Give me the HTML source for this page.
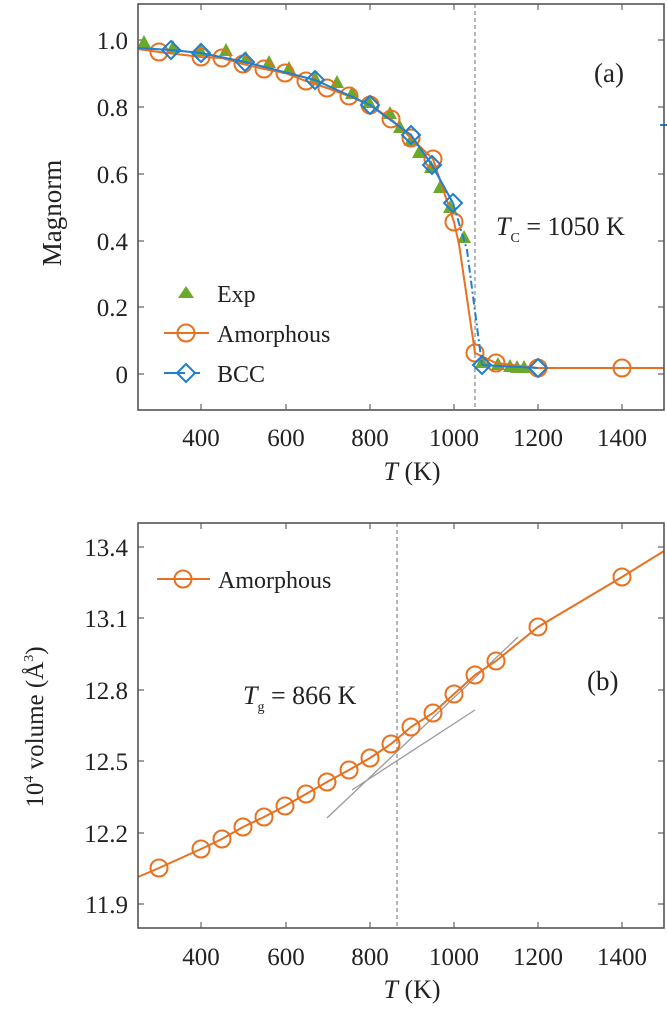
<!DOCTYPE html>
<html><head><meta charset="utf-8"><style>
html,body{margin:0;padding:0;background:#fff;}
svg{display:block;font-family:"Liberation Serif",serif;}
</style></head><body>
<svg width="667" height="1013" viewBox="0 0 667 1013" xmlns="http://www.w3.org/2000/svg">
<rect width="667" height="1013" fill="#fff"/>
<!-- ===== TOP PLOT ===== -->
<g stroke="#666" stroke-width="1.2" fill="none">
<path d="M201,410v-6M286,410v-6M370,410v-6M454,410v-6M538,410v-6M622,410v-6"/>
<path d="M201,4v6M286,4v6M370,4v6M454,4v6M538,4v6M622,4v6"/>
<path d="M138,374h6M138,307h6M138,241h6M138,174h6M138,107h6M138,40h6"/>
<path d="M664,374h-6M664,307h-6M664,241h-6M664,174h-6M664,107h-6M664,40h-6"/>
</g>
<line x1="475" y1="4" x2="475" y2="410" stroke="#888" stroke-width="1.2" stroke-dasharray="4,3"/>
<g fill="#6aaa2a">
<path d="M0,-7L7,6H-7Z" transform="translate(144,42)"/>
<path d="M0,-7L7,6H-7Z" transform="translate(173,47)"/>
<path d="M0,-7L7,6H-7Z" transform="translate(200,50)"/>
<path d="M0,-7L7,6H-7Z" transform="translate(226,50)"/>
<path d="M0,-7L7,6H-7Z" transform="translate(246,58)"/>
<path d="M0,-7L7,6H-7Z" transform="translate(269,62)"/>
<path d="M0,-7L7,6H-7Z" transform="translate(289,68)"/>
<path d="M0,-7L7,6H-7Z" transform="translate(315,78)"/>
<path d="M0,-7L7,6H-7Z" transform="translate(337,82)"/>
<path d="M0,-7L7,6H-7Z" transform="translate(352,93)"/>
<path d="M0,-7L7,6H-7Z" transform="translate(369,102)"/>
<path d="M0,-7L7,6H-7Z" transform="translate(390,113)"/>
<path d="M0,-7L7,6H-7Z" transform="translate(400,127)"/>
<path d="M0,-7L7,6H-7Z" transform="translate(411,140)"/>
<path d="M0,-7L7,6H-7Z" transform="translate(419,152)"/>
<path d="M0,-7L7,6H-7Z" transform="translate(431,167)"/>
<path d="M0,-7L7,6H-7Z" transform="translate(440,187)"/>
<path d="M0,-7L7,6H-7Z" transform="translate(450,207)"/>
<path d="M0,-7L7,6H-7Z" transform="translate(464,237)"/>
<path d="M0,-7L7,6H-7Z" transform="translate(482,362)"/>
<path d="M0,-7L7,6H-7Z" transform="translate(498,364)"/>
<path d="M0,-7L7,6H-7Z" transform="translate(510,366)"/>
<path d="M0,-7L7,6H-7Z" transform="translate(517,367)"/>
<path d="M0,-7L7,6H-7Z" transform="translate(524,367)"/>
</g>
<g stroke="#e8711f" stroke-width="2" fill="none">
<polyline points="138,49 159,52 201,57 222,58 243,64 264,69 285,73 306,81 327,88 349,96 370,105 391,119 411,138 433,159 454,222 459,244 475,353 496,363 538,368 622,368 664,368"/>
<g>
<circle cx="159" cy="52" r="8.5"/><circle cx="201" cy="57" r="8.5"/><circle cx="222" cy="58" r="8.5"/><circle cx="243" cy="64" r="8.5"/><circle cx="264" cy="69" r="8.5"/><circle cx="285" cy="73" r="8.5"/><circle cx="306" cy="81" r="8.5"/><circle cx="327" cy="88" r="8.5"/><circle cx="349" cy="96" r="8.5"/><circle cx="370" cy="105" r="8.5"/><circle cx="391" cy="119" r="8.5"/><circle cx="411" cy="138" r="8.5"/><circle cx="433" cy="159" r="8.5"/><circle cx="454" cy="222" r="8.5"/><circle cx="475" cy="353" r="8.5"/><circle cx="496" cy="363" r="8.5"/><circle cx="538" cy="368" r="8.5"/><circle cx="622" cy="368" r="8.5"/>
</g>
</g>
<g stroke="#1f7fd0" stroke-width="2" fill="none">
<polyline points="138,48 171,50 201,53 245,62 315,80 370,105 411,135 432,165 453,203"/>
<polyline points="453,203 467,250 482,365" stroke-dasharray="8,3,2,3"/>
<polyline points="482,365 538,368"/>
<g>
<path d="M171,41l9,9l-9,9l-9,-9z"/><path d="M201,44l9,9l-9,9l-9,-9z"/><path d="M245,53l9,9l-9,9l-9,-9z"/><path d="M315,71l9,9l-9,9l-9,-9z"/><path d="M370,96l9,9l-9,9l-9,-9z"/><path d="M411,126l9,9l-9,9l-9,-9z"/><path d="M432,156l9,9l-9,9l-9,-9z"/><path d="M453,194l9,9l-9,9l-9,-9z"/><path d="M482,356l9,9l-9,9l-9,-9z"/><path d="M538,359l9,9l-9,9l-9,-9z"/>
</g>
</g>
<line x1="660" y1="125" x2="667" y2="125" stroke="#1f7fd0" stroke-width="2"/>
<rect x="138" y="4" width="526" height="406" fill="none" stroke="#555" stroke-width="1.6"/>
<path d="M186,286l8,12h-16z" fill="#6aaa2a"/>
<text x="217" y="302" font-size="24" fill="#222">Exp</text>
<line x1="164" y1="333" x2="209" y2="333" stroke="#e8711f" stroke-width="2"/>
<circle cx="186" cy="333" r="8.5" fill="none" stroke="#e8711f" stroke-width="2"/>
<text x="217" y="342" font-size="24" fill="#222">Amorphous</text>
<line x1="164" y1="373" x2="185" y2="373" stroke="#1f7fd0" stroke-width="2"/>
<line x1="193" y1="373" x2="200" y2="373" stroke="#1f7fd0" stroke-width="2"/>
<path d="M186,364l9,9l-9,9l-9,-9z" fill="none" stroke="#1f7fd0" stroke-width="2"/>
<text x="217" y="382" font-size="24" fill="#222">BCC</text>
<text x="594" y="82" font-size="27" fill="#222">(a)</text>
<text x="496" y="235" font-size="26" fill="#222"><tspan font-style="italic">T</tspan><tspan font-size="14" dy="7">C</tspan><tspan dy="-7"> = 1050 K</tspan></text>
<g font-size="25" fill="#222" text-anchor="end">
<text x="128" y="383">0</text><text x="128" y="316">0.2</text><text x="128" y="250">0.4</text><text x="128" y="183">0.6</text><text x="128" y="116">0.8</text><text x="128" y="49">1.0</text>
</g>
<g font-size="25" fill="#222" text-anchor="middle">
<text x="201" y="446">400</text><text x="286" y="446">600</text><text x="370" y="446">800</text><text x="454" y="446">1000</text><text x="538" y="446">1200</text><text x="622" y="446">1400</text>
</g>
<text x="412" y="480" font-size="26" fill="#222" text-anchor="middle"><tspan font-style="italic">T</tspan>  (K)</text>
<text transform="translate(61,213) rotate(-90)" font-size="27" fill="#222" text-anchor="middle">Magnorm</text>

<!-- ===== BOTTOM PLOT ===== -->
<g stroke="#666" stroke-width="1.2" fill="none">
<path d="M201,928v-6M286,928v-6M370,928v-6M454,928v-6M538,928v-6M622,928v-6"/>
<path d="M201,523v6M286,523v6M370,523v6M454,523v6M538,523v6M622,523v6"/>
<path d="M138,904h6M138,833h6M138,761h6M138,690h6M138,618h6M138,547h6"/>
<path d="M664,904h-6M664,833h-6M664,761h-6M664,690h-6M664,618h-6M664,547h-6"/>
</g>
<line x1="397" y1="523" x2="397" y2="928" stroke="#888" stroke-width="1.2" stroke-dasharray="4,3"/>
<line x1="327" y1="818" x2="518" y2="637" stroke="#999" stroke-width="1.3"/>
<line x1="352" y1="790" x2="475" y2="710" stroke="#999" stroke-width="1.3"/>
<g stroke="#e8711f" stroke-width="2" fill="none">
<polyline points="138,877 159,868 201,849 222,839 243,827 264,817 285,806 306,794 327,782 349,770 370,758 391,744 411,727 433,713 454,694 475,675 496,661 538,627 622,577 664,551"/>
<circle cx="159" cy="868" r="8.5"/><circle cx="201" cy="849" r="8.5"/><circle cx="222" cy="839" r="8.5"/><circle cx="243" cy="827" r="8.5"/><circle cx="264" cy="817" r="8.5"/><circle cx="285" cy="806" r="8.5"/><circle cx="306" cy="794" r="8.5"/><circle cx="327" cy="782" r="8.5"/><circle cx="349" cy="770" r="8.5"/><circle cx="370" cy="758" r="8.5"/><circle cx="391" cy="744" r="8.5"/><circle cx="411" cy="727" r="8.5"/><circle cx="433" cy="713" r="8.5"/><circle cx="454" cy="694" r="8.5"/><circle cx="475" cy="675" r="8.5"/><circle cx="496" cy="661" r="8.5"/><circle cx="538" cy="627" r="8.5"/><circle cx="622" cy="577" r="8.5"/>
</g>
<rect x="138" y="523" width="526" height="405" fill="none" stroke="#555" stroke-width="1.6"/>
<line x1="157" y1="579" x2="210" y2="579" stroke="#e8711f" stroke-width="2"/>
<circle cx="183" cy="579" r="8.5" fill="none" stroke="#e8711f" stroke-width="2"/>
<text x="218" y="588" font-size="24" fill="#222">Amorphous</text>
<text x="587" y="690" font-size="27" fill="#222">(b)</text>
<text x="243" y="704" font-size="26" fill="#222"><tspan font-style="italic">T</tspan><tspan font-size="14" dy="7">g</tspan><tspan dy="-7"> = 866 K</tspan></text>
<g font-size="25" fill="#222" text-anchor="end">
<text x="128" y="913">11.9</text><text x="128" y="842">12.2</text><text x="128" y="770">12.5</text><text x="128" y="699">12.8</text><text x="128" y="627">13.1</text><text x="128" y="556">13.4</text>
</g>
<g font-size="25" fill="#222" text-anchor="middle">
<text x="201" y="965">400</text><text x="286" y="965">600</text><text x="370" y="965">800</text><text x="454" y="965">1000</text><text x="538" y="965">1200</text><text x="622" y="965">1400</text>
</g>
<text x="412" y="998" font-size="26" fill="#222" text-anchor="middle"><tspan font-style="italic">T</tspan>  (K)</text>
<text transform="translate(43,727) rotate(-90)" font-size="25" fill="#222" text-anchor="middle">10<tspan font-size="14" dy="-10">4</tspan><tspan dy="10"> volume (Å</tspan><tspan font-size="14" dy="-10">3</tspan><tspan dy="10">)</tspan></text>
</svg>
</body></html>
